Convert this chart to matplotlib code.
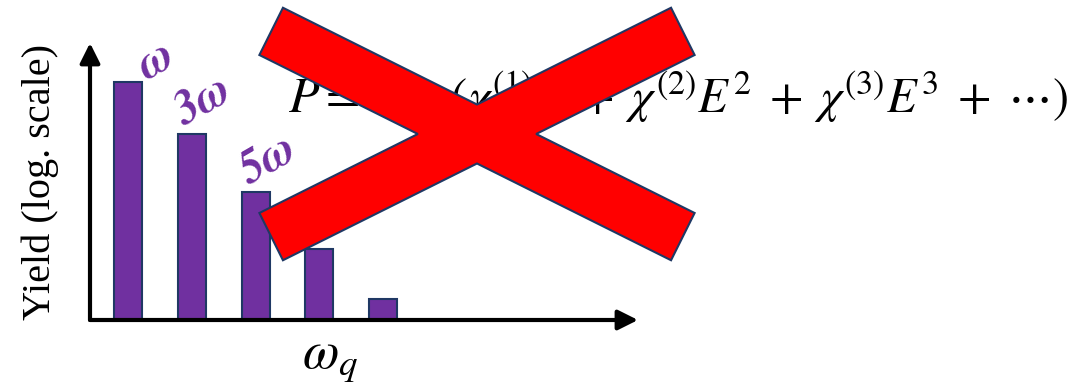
import numpy as np
import matplotlib.pyplot as plt
from matplotlib.transforms import Affine2D

plt.rcParams['mathtext.fontset'] = 'stix'

# harmonic orders and their (log) yields
orders = [1, 3, 5, 7, 9]
yields = [2.38, 1.86, 1.28, 0.71, 0.21]
order_labels = ['ω', '3ω', '5ω']
# centre of each order label relative to the top of its bar (pixels)
label_offsets = [(28, 21), (12, 32), (13, 31)]
label_angle = 30

purple = '#7030A0'
navy = '#1F3864'

W, H = 1076, 386
fig = plt.figure(figsize=(W / 100, H / 100), dpi=100)

# bar chart axes
ax = fig.add_axes([90 / W, (H - 320) / H, (638 - 90) / W, (320 - 43) / H])
pos = np.arange(1, len(yields) + 1)
ax.bar(pos, yields, width=0.44, color=purple, edgecolor=navy, linewidth=1.5, zorder=2)
ax.set_xlim(0.4, 9.0)
ax.set_ylim(0, 2.77)
ax.axis('off')

arrow = dict(arrowstyle='-|>,head_length=0.6,head_width=0.3', lw=3, color='black',
             mutation_scale=20, shrinkA=0, shrinkB=0)
ax.annotate('', xy=(0, 1), xytext=(0, 0), xycoords='axes fraction', arrowprops=arrow, zorder=3)
ax.annotate('', xy=(1, 0), xytext=(0, 0), xycoords='axes fraction', arrowprops=arrow, zorder=3)

# tilted order labels: rotate in a local frame, then move onto the bar top
for p, v, lab, (dx, dy) in zip(pos, yields, order_labels, label_offsets):
    bx, by = ax.transData.transform((p, v))
    tr = Affine2D().rotate_deg(label_angle).translate(bx + dx, by + dy)
    fig.text(0, 0, lab, transform=tr, transform_rotates_text=True,
             fontsize=34, color=purple, ha='center', va='center',
             family='STIXGeneral', weight='bold', style='italic')

ax.text(-0.09, 0.5, 'Yield (log. scale)', transform=ax.transAxes, rotation=90,
        family='Liberation Serif', fontsize=29, ha='center', va='center')

# overlay in pixel units for the equation, the x label and the cross
ov = fig.add_axes([0, 0, 1, 1])
ov.set_xlim(0, W)
ov.set_ylim(H, 0)
ov.axis('off')
ov.patch.set_alpha(0)

ov.text(330, 368, r'$\omega_q$', fontsize=38, ha='center', va='baseline')

ov.text(288, 112, r'$P =$', fontsize=36, ha='left', va='baseline', zorder=1)
ov.text(1068, 113,
        r'$\varepsilon_0(\chi^{(1)}E\;+\;\chi^{(2)}E^2\;+\;\chi^{(3)}E^3\;+\;\cdots)$',
        fontsize=35, ha='right', va='baseline', zorder=1)

# big red cross: two bars at +-theta, merged into one outline
cx, cy = 477, 134
half_len, half_w = 230, 26.4
theta = np.deg2rad(26.5)
c, s = np.cos(theta), np.sin(theta)
ex, ey = half_len * c, half_len * s
nx, ny = half_w * s, half_w * c
cross = [
    (cx - ex + nx, cy - ey - ny), (cx, cy - half_w / c),
    (cx + ex - nx, cy - ey - ny), (cx + ex + nx, cy - ey + ny),
    (cx + half_w / s, cy),
    (cx + ex + nx, cy + ey - ny), (cx + ex - nx, cy + ey + ny),
    (cx, cy + half_w / c),
    (cx - ex + nx, cy + ey + ny), (cx - ex - nx, cy + ey - ny),
    (cx - half_w / s, cy),
    (cx - ex - nx, cy - ey + ny),
]
ov.add_patch(plt.Polygon(cross, closed=True, facecolor='#FF0000', edgecolor=navy,
                         linewidth=1.5, zorder=5))

fig.savefig('out.png', dpi=100)
